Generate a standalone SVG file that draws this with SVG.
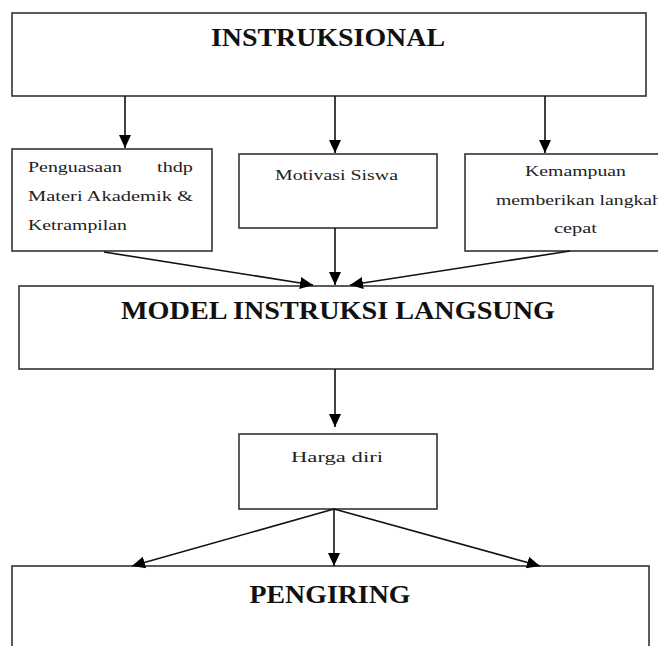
<svg xmlns="http://www.w3.org/2000/svg" width="658" height="646" viewBox="0 0 658 646">
<style>
.box{fill:#fff;stroke:#333;stroke-width:1.6}
.con{fill:none;stroke:#111;stroke-width:1.6}
.h{font-family:"Liberation Serif","Times New Roman",serif;font-weight:bold;font-size:26px;fill:#111}
.t{font-family:"Liberation Serif","Times New Roman",serif;font-size:15px;fill:#222}
</style>
<defs>
<marker id="ah" markerUnits="userSpaceOnUse" markerWidth="14" markerHeight="12" refX="13" refY="6" orient="auto">
<path d="M0,0 L13,6 L0,12 z" fill="#000"/>
</marker>
</defs>
<rect width="658" height="646" fill="#fff"/>
<g id="instruksional">
<rect class="box" x="12" y="13" width="634" height="83"/>
<text class="h" x="328" y="46" text-anchor="middle" textLength="234" lengthAdjust="spacingAndGlyphs">INSTRUKSIONAL</text>
</g>
<g id="penguasaan">
<rect class="box" x="12" y="149" width="200" height="102"/>
<text class="t" x="28" y="172" textLength="94" lengthAdjust="spacingAndGlyphs">Penguasaan</text>
<text class="t" x="157" y="172" textLength="36" lengthAdjust="spacingAndGlyphs">thdp</text>
<text class="t" x="28" y="201" textLength="165" lengthAdjust="spacingAndGlyphs">Materi Akademik &amp;</text>
<text class="t" x="28" y="230" textLength="99" lengthAdjust="spacingAndGlyphs">Ketrampilan</text>
</g>
<g id="motivasi">
<rect class="box" x="239" y="154" width="198" height="74"/>
<text class="t" x="275" y="180" textLength="123" lengthAdjust="spacingAndGlyphs">Motivasi Siswa</text>
</g>
<g id="kemampuan">
<rect class="box" x="465" y="154" width="210" height="97"/>
<text class="t" x="525" y="176" textLength="101" lengthAdjust="spacingAndGlyphs">Kemampuan</text>
<text class="t" x="496" y="205" textLength="166" lengthAdjust="spacingAndGlyphs">memberikan langkah</text>
<text class="t" x="554" y="233" textLength="43" lengthAdjust="spacingAndGlyphs">cepat</text>
</g>
<g id="model">
<rect class="box" x="19" y="286" width="634" height="83"/>
<text class="h" x="338" y="319" text-anchor="middle" textLength="434" lengthAdjust="spacingAndGlyphs">MODEL INSTRUKSI LANGSUNG</text>
</g>
<g id="harga">
<rect class="box" x="239" y="434" width="198" height="75"/>
<text class="t" x="291" y="462" textLength="92" lengthAdjust="spacingAndGlyphs">Harga diri</text>
</g>
<g id="pengiring">
<rect class="box" x="12" y="566" width="637" height="100"/>
<text class="h" x="330" y="603" text-anchor="middle" textLength="161" lengthAdjust="spacingAndGlyphs">PENGIRING</text>
</g>
<g id="connectors">
<line class="con" x1="125" y1="96" x2="125" y2="148" marker-end="url(#ah)"/>
<line class="con" x1="335" y1="96" x2="335" y2="153" marker-end="url(#ah)"/>
<line class="con" x1="545" y1="96" x2="545" y2="153" marker-end="url(#ah)"/>
<line class="con" x1="104" y1="252" x2="313" y2="285" marker-end="url(#ah)"/>
<line class="con" x1="335" y1="228" x2="335" y2="285" marker-end="url(#ah)"/>
<line class="con" x1="570" y1="251" x2="350" y2="285" marker-end="url(#ah)"/>
<line class="con" x1="335" y1="369" x2="335" y2="427" marker-end="url(#ah)"/>
<line class="con" x1="334" y1="509" x2="132" y2="566" marker-end="url(#ah)"/>
<line class="con" x1="334" y1="509" x2="334" y2="566" marker-end="url(#ah)"/>
<line class="con" x1="334" y1="509" x2="540" y2="566" marker-end="url(#ah)"/>
</g>
</svg>
